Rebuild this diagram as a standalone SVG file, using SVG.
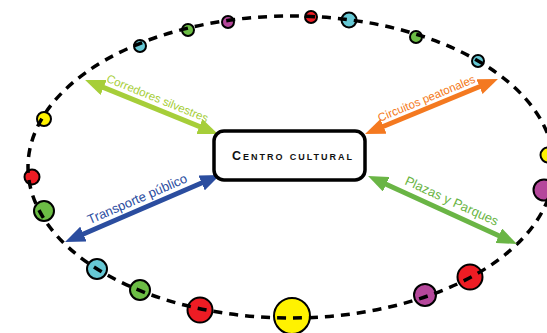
<svg xmlns="http://www.w3.org/2000/svg" width="547" height="333" viewBox="0 0 547 333">
<style>
.dot{stroke:#000;stroke-width:2}
.cy{fill:#66c8d4}.gr{fill:#6cbd45}.mg{fill:#b5479b}.rd{fill:#ed1c24}.yl{fill:#fff200}
.lbl{font-family:"Liberation Sans",Arial,sans-serif;text-anchor:middle}
.arr{stroke-width:5;fill:none}
</style>
<defs>
<marker id="mA" viewBox="0 0 20 16" refX="5" refY="8" markerWidth="20" markerHeight="16" markerUnits="userSpaceOnUse" orient="auto-start-reverse"><path d="M0,0 L20,8 L0,16 z" fill="#a6ce39"/></marker>
<marker id="mB" viewBox="0 0 20 16" refX="5" refY="8" markerWidth="20" markerHeight="16" markerUnits="userSpaceOnUse" orient="auto-start-reverse"><path d="M0,0 L20,8 L0,16 z" fill="#f47920"/></marker>
<marker id="mC" viewBox="0 0 20 16" refX="5" refY="8" markerWidth="20" markerHeight="16" markerUnits="userSpaceOnUse" orient="auto-start-reverse"><path d="M0,0 L20,8 L0,16 z" fill="#2b4d9f"/></marker>
<marker id="mD" viewBox="0 0 20 16" refX="5" refY="8" markerWidth="20" markerHeight="16" markerUnits="userSpaceOnUse" orient="auto-start-reverse"><path d="M0,0 L20,8 L0,16 z" fill="#6ab545"/></marker>
</defs>
<g id="dots">
<circle class="dot cy" cx="140" cy="46" r="6"/>
<circle class="dot gr" cx="188" cy="30" r="6"/>
<circle class="dot mg" cx="228" cy="22" r="6"/>
<circle class="dot rd" cx="311" cy="17" r="6"/>
<circle class="dot cy" cx="349" cy="20" r="7.5"/>
<circle class="dot gr" cx="416" cy="37" r="6"/>
<circle class="dot cy" cx="478" cy="61" r="6"/>
<circle class="dot yl" cx="44" cy="119" r="7"/>
<circle class="dot rd" cx="32" cy="177" r="7.5"/>
<circle class="dot gr" cx="44" cy="211" r="10"/>
<circle class="dot cy" cx="97" cy="269" r="10"/>
<circle class="dot gr" cx="140" cy="290" r="10"/>
<circle class="dot rd" cx="200" cy="310" r="12.5"/>
<circle class="dot yl" cx="292" cy="316" r="18"/>
<circle class="dot mg" cx="425" cy="295" r="11"/>
<circle class="dot rd" cx="470" cy="277" r="12.5"/>
<circle class="dot yl" cx="548" cy="155" r="7.5"/>
<circle class="dot mg" cx="544" cy="190" r="10.5"/>
</g>
<g id="ring">
<ellipse cx="291" cy="167" rx="263" ry="151" fill="none" stroke="#000" stroke-width="3.5" stroke-dasharray="9 7"/>
</g>
<g id="connectors">
<line class="arr" x1="99" y1="85.6" x2="204" y2="128.4" stroke="#a6ce39" marker-start="url(#mA)" marker-end="url(#mA)"/>
<line class="arr" x1="378.9" y1="128.3" x2="484.1" y2="84.7" stroke="#f47920" marker-start="url(#mB)" marker-end="url(#mB)"/>
<line class="arr" x1="206.2" y1="181" x2="78.8" y2="236" stroke="#2b4d9f" marker-start="url(#mC)" marker-end="url(#mC)"/>
<line class="arr" x1="381.7" y1="182.2" x2="503.3" y2="237.8" stroke="#6ab545" marker-start="url(#mD)" marker-end="url(#mD)"/>
<text class="lbl" transform="translate(156,102) rotate(22.1)" font-size="11.5" fill="#a6ce39">Corredores silvestres</text>
<text class="lbl" transform="translate(428,102) rotate(-22.5)" font-size="11.5" fill="#f47920">Circuitos peatonales</text>
<text class="lbl" transform="translate(139,203) rotate(-23.4)" font-size="13" fill="#2b4d9f">Transporte público</text>
<text class="lbl" transform="translate(450,205) rotate(24.5)" font-size="13" fill="#6ab545">Plazas y Parques</text>
</g>
<g id="centro">
<rect x="214" y="131" width="151" height="49" rx="10" fill="#fff" stroke="#000" stroke-width="3.5"/>
<text x="232" y="159.5" font-family="'Liberation Sans',Arial,sans-serif" font-size="12.5" font-weight="bold" font-variant="small-caps" textLength="120" lengthAdjust="spacing" fill="#111">Centro cultural</text>
</g>
</svg>
